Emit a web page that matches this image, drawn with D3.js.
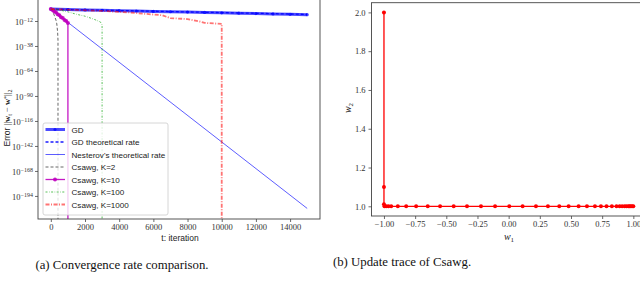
<!DOCTYPE html>
<html>
<head>
<meta charset="utf-8">
<script src="https://cdn.jsdelivr.net/npm/d3@7"></script>
<style>
  body { margin: 0; background: #fff; }
  svg { display: block; }
</style>
</head>
<body>
<svg id="chart" width="640" height="282"></svg>
<script>
// ---- data ----
const iterTicks = [0, 2000, 4000, 6000, 8000, 10000, 12000, 14000];
const errTickExp = [-12, -38, -64, -90, -116, -142, -168, -194];

const gdT   = [0, 1000, 2000, 3000, 4000, 5000, 6000, 7000, 8000, 9000, 10000, 11000, 12000, 13000, 14000, 15000];
const gdErr = [2.24, 8e-1, 3e-1, 1.5e-1, 6e-2, 2.5e-2, 1e-2, 4e-3, 2e-3, 8e-4, 3e-4, 1.3e-4, 5e-5, 2e-5, 9e-6, 4e-6];

const gdRateT   = [0, 15000];
const gdRateErr = [2.24, 8e-6];

const nestT   = [0, 15000];
const nestErr = [2.24, 1e-207];

const k2T   = [0, 100, 200, 300, 350, 400, 420, 420];
const k2Err = [2.24, 1e-2, 1e-6, 1e-11, 1e-15, 1e-24, 1e-32, 1e-300];

const k10T   = [0, 100, 200, 300, 400, 500, 600, 700, 800, 900, 1000, 1000];
const k10Err = [2.24, 3e-1, 1e-2, 1e-3, 1e-5, 1e-6, 1e-8, 1e-9, 1e-11, 1e-12, 1e-14, 1e-300];

const k100T   = [0, 500, 1000, 1500, 2000, 2500, 2900, 3000, 3000];
const k100Err = [2.24, 3e-1, 3e-3, 1e-5, 1e-7, 1e-10, 1e-13, 1e-16, 1e-300];

const k1000T   = [0, 1500, 3000, 4500, 5500, 6500, 7000, 8000, 8700, 9000, 10000, 10000];
const k1000Err = [2.24, 3e-1, 3e-2, 1e-3, 3e-5, 1e-6, 1e-9, 1e-10, 3e-13, 1e-14, 1e-15, 1e-300];

const w1Ticks = [-1, -0.75, -0.5, -0.25, 0, 0.25, 0.5, 0.75, 1];
const w2Ticks = [1.0, 1.2, 1.4, 1.6, 1.8, 2.0];
const w1Trace = [-1, -1, -1, -0.996, -0.982, -0.964, -0.942, -0.889, -0.822, -0.742, -0.649, -0.55, -0.441,
  -0.334, -0.222, -0.109, 0.005, 0.112, 0.219, 0.315, 0.406, 0.481, 0.561, 0.628, 0.692, 0.74, 0.785,
  0.828, 0.865, 0.89, 0.91, 0.93, 0.945, 0.96, 0.97, 0.98, 0.99, 1.0];
const w2Trace = [2.0, 1.1, 1.01, 1.0, 1.0, 1.0, 1.0, 1.0, 1.0, 1.0, 1.0, 1.0, 1.0, 1.0, 1.0, 1.0, 1.0, 1.0,
  1.0, 1.0, 1.0, 1.0, 1.0, 1.0, 1.0, 1.0, 1.0, 1.0, 1.0, 1.0, 1.0, 1.0, 1.0, 1.0, 1.0, 1.0, 1.0, 1.0];

const series = [
  {name: 'GD', t: gdT, e: gdErr, color: '#0000ff', w: 3, op: 0.7, dash: null, marker: 1.6},
  {name: 'GD theoretical rate', t: gdRateT, e: gdRateErr, color: '#0000ff', w: 1.3, op: 0.9, dash: '3,2'},
  {name: "Nesterov's theoretical rate", t: nestT, e: nestErr, color: '#0000ff', w: 0.8, op: 0.8, dash: null},
  {name: 'Csawg, K=2', t: k2T, e: k2Err, color: '#000000', w: 1, op: 0.6, dash: '3,2'},
  {name: 'Csawg, K=10', t: k10T, e: k10Err, color: '#bf00bf', w: 1.3, op: 0.9, dash: null, marker: 2},
  {name: 'Csawg, K=100', t: k100T, e: k100Err, color: '#00a000', w: 1, op: 0.65, dash: '2,1.5,0.6,1.5'},
  {name: 'Csawg, K=1000', t: k1000T, e: k1000Err, color: '#ff0000', w: 1.8, op: 0.55, dash: '4,1.5,1,1.5'}
];

const svg = d3.select('#chart');
const serif = "'Liberation Serif', 'DejaVu Serif', serif";
const sans = "'Liberation Sans', 'DejaVu Sans', sans-serif";

// ---- left panel: convergence ----
const x = d3.scaleLinear().domain([-750, 15750]).range([38, 320]);
const y = d3.scaleLog().domain([1e-218, Math.pow(10, 11.4)]).range([219, -1.5]);

svg.append('clipPath').attr('id', 'clipA')
  .append('rect').attr('x', 38).attr('y', -1.5).attr('width', 282).attr('height', 220.5);

const plotA = svg.append('g').attr('clip-path', 'url(#clipA)');
const lineA = d3.line().x(d => x(d[0])).y(d => y(d[1]));

series.forEach(s => {
  const pts = s.t.map((t, i) => [t, s.e[i]]);
  plotA.append('path').datum(pts)
    .attr('d', lineA)
    .attr('fill', 'none')
    .attr('stroke', s.color)
    .attr('stroke-width', s.w)
    .attr('stroke-opacity', s.op)
    .attr('stroke-dasharray', s.dash);
  if (s.marker) {
    plotA.selectAll(null).data(pts.filter(p => p[1] > 1e-200)).enter().append('circle')
      .attr('cx', d => x(d[0])).attr('cy', d => y(d[1]))
      .attr('r', s.marker).attr('fill', s.color).attr('fill-opacity', s.op);
  }
});

svg.append('g').attr('transform', 'translate(0,219)')
  .call(d3.axisBottom(x).tickValues(iterTicks).tickSize(3).tickPadding(2).tickFormat(d3.format('d')));
const ayA = svg.append('g').attr('transform', 'translate(38,0)')
  .call(d3.axisLeft(y).tickValues(errTickExp.map(e => Math.pow(10, e))).tickSize(3).tickFormat(''));

ayA.selectAll('.tick').each(function(d, i) {
  const t = d3.select(this).append('text')
    .attr('x', -5).attr('dy', '0.45em').attr('text-anchor', 'end')
    .attr('fill', '#333').style('font-family', serif).style('font-size', '8.5px');
  t.append('tspan').text('10');
  t.append('tspan').attr('dy', '-0.5em').style('font-size', '6px').text('\u2212' + Math.abs(errTickExp[i]));
});

svg.append('rect').attr('x', 38).attr('y', -1.5).attr('width', 282).attr('height', 220.5)
  .attr('fill', 'none').attr('stroke', '#444').attr('stroke-width', 0.9);

// legend
const legend = svg.append('g').attr('transform', 'translate(43,123)');
legend.append('rect').attr('width', 125).attr('height', 92).attr('rx', 2)
  .attr('fill', '#fff').attr('fill-opacity', 0.8).attr('stroke', '#ccc').attr('stroke-width', 0.8);
series.forEach((s, i) => {
  const ly = 6.5 + i * 12.5;
  legend.append('line').attr('x1', 2.5).attr('x2', 22).attr('y1', ly).attr('y2', ly)
    .attr('stroke', s.color).attr('stroke-width', s.w).attr('stroke-opacity', s.op)
    .attr('stroke-dasharray', s.dash);
  if (s.marker) {
    legend.append('circle').attr('cx', 12).attr('cy', ly).attr('r', s.marker)
      .attr('fill', s.color).attr('fill-opacity', s.op);
  }
  legend.append('text').attr('x', 28.5).attr('y', ly + 3)
    .attr('fill', '#222').style('font-family', sans).style('font-size', '8.1px')
    .text(s.name);
});

svg.append('text').attr('x', 180).attr('y', 241).attr('text-anchor', 'middle')
  .attr('fill', '#222').style('font-family', sans).style('font-size', '8.5px').text('t: iteration');

const yl = svg.append('text').attr('transform', 'translate(10,118) rotate(-90)')
  .attr('text-anchor', 'middle').attr('fill', '#222').style('font-size', '8.5px');
yl.append('tspan').style('font-family', sans).text('Error ');
yl.append('tspan').style('font-family', serif).text('||');
yl.append('tspan').style('font-family', serif).style('font-weight', 'bold').text('w');
yl.append('tspan').style('font-family', serif).attr('dy', '1.5').style('font-size', '6px').text('t');
yl.append('tspan').style('font-family', serif).attr('dy', '-1.5').text(' \u2212 ');
yl.append('tspan').style('font-family', serif).style('font-weight', 'bold').text('w');
yl.append('tspan').style('font-family', serif).attr('dy', '-2.5').style('font-size', '6px').text('*');
yl.append('tspan').style('font-family', serif).attr('dy', '2.5').text('||');
yl.append('tspan').style('font-family', serif).attr('dy', '1.5').style('font-size', '6px').text('2');

svg.append('text').attr('x', 122).attr('y', 269).attr('text-anchor', 'middle')
  .attr('fill', '#111').style('font-family', serif).style('font-size', '12.8px')
  .text('(a) Convergence rate comparison.');

// ---- right panel: update trace ----
const xb = d3.scaleLinear().domain([-1.1, 1.1]).range([371.5, 645.8]);
const yb = d3.scaleLinear().domain([0.95, 2.05]).range([216, 2.7]);

const fmtMinus = f => v => f(v).replace('-', '\u2212');
svg.append('g').attr('transform', 'translate(0,216)')
  .call(d3.axisBottom(xb).tickValues(w1Ticks).tickSize(3).tickPadding(2).tickFormat(fmtMinus(d3.format('.2f'))));
svg.append('g').attr('transform', 'translate(371.5,0)')
  .call(d3.axisLeft(yb).tickValues(w2Ticks).tickSize(3).tickFormat(d3.format('.1f')));

svg.append('rect').attr('x', 371.5).attr('y', 2.7).attr('width', 274.3).attr('height', 213.3)
  .attr('fill', 'none').attr('stroke', '#444').attr('stroke-width', 0.9);

const trace = w1Trace.map((v, i) => [v, w2Trace[i]]);
svg.append('path').datum(trace)
  .attr('d', d3.line().x(d => xb(d[0])).y(d => yb(d[1])))
  .attr('fill', 'none').attr('stroke', '#ff0000').attr('stroke-width', 1.3);
svg.selectAll(null).data(trace).enter().append('circle')
  .attr('cx', d => xb(d[0])).attr('cy', d => yb(d[1])).attr('r', 2).attr('fill', '#ff0000');

svg.append('text').attr('x', 509).attr('y', 240).attr('text-anchor', 'middle')
  .attr('fill', '#222').style('font-family', serif).style('font-style', 'italic').style('font-size', '10px')
  .call(t => { t.append('tspan').text('w'); t.append('tspan').attr('dy', 2).style('font-size', '7px').style('font-style', 'normal').text('1'); });
svg.append('text').attr('transform', 'translate(351,108) rotate(-90)').attr('text-anchor', 'middle')
  .attr('fill', '#222').style('font-family', serif).style('font-style', 'italic').style('font-size', '10px')
  .call(t => { t.append('tspan').text('w'); t.append('tspan').attr('dy', 2).style('font-size', '7px').style('font-style', 'normal').text('2'); });

svg.append('text').attr('x', 402).attr('y', 266).attr('text-anchor', 'middle')
  .attr('fill', '#111').style('font-family', serif).style('font-size', '12.8px')
  .text('(b) Update trace of Csawg.');

// axis styling
svg.selectAll('.domain').attr('stroke', 'none');
svg.selectAll('.tick line').attr('stroke', '#444').attr('stroke-width', 0.8);
svg.selectAll('.tick text').attr('fill', '#333').style('font-family', serif).style('font-size', '8.5px');
</script>
</body>
</html>
